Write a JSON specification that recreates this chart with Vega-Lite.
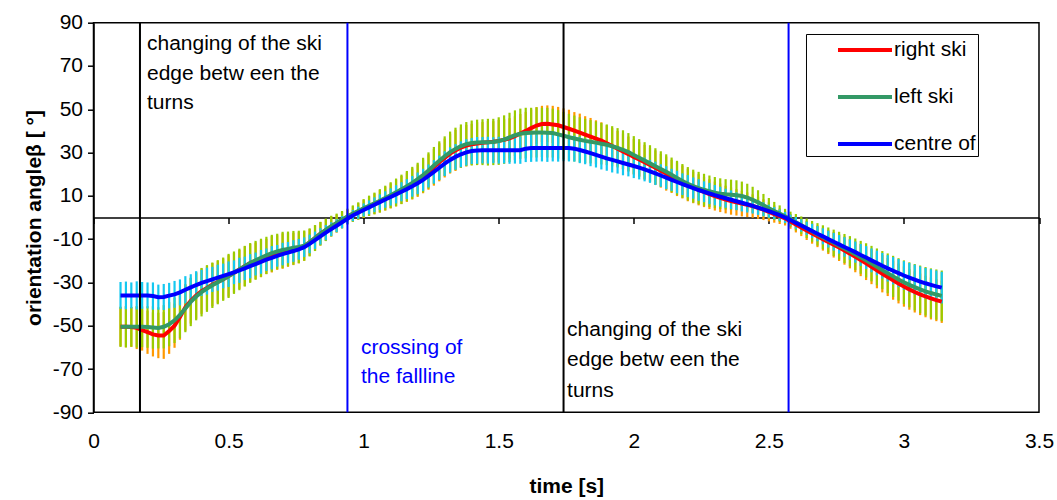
{
  "$schema": "https://vega.github.io/schema/vega-lite/v6.json",
  "width": 945.5,
  "height": 389.6,
  "autosize": {"type": "none"},
  "padding": {"left": 93.5, "top": 22.7, "right": 18, "bottom": 88},
  "background": "white",
  "config": {
    "font": "Liberation Sans",
    "view": {"stroke": "#000", "strokeWidth": 1.5},
    "axis": {
      "grid": false,
      "labelFont": "Liberation Sans",
      "labelFontSize": 21,
      "labelColor": "#000",
      "titleFont": "Liberation Sans",
      "titleFontSize": 21,
      "titleFontWeight": "bold",
      "titleColor": "#000",
      "domainColor": "#000",
      "domainWidth": 1.5,
      "tickColor": "#000",
      "tickWidth": 1.5
    }
  },
  "datasets": {
    "ski": [
      {"t":0.10,"r":-50.5,"re":9,"l":-50.5,"le":9.3,"c":-36,"ce":6.2},
      {"t":0.12,"r":-50.5,"re":9.5,"l":-50.5,"le":9.5,"c":-36,"ce":6.4},
      {"t":0.14,"r":-50.6,"re":9.2,"l":-50.5,"le":9.2,"c":-36,"ce":6},
      {"t":0.16,"r":-51,"re":9.8,"l":-50.5,"le":9.6,"c":-36,"ce":6.5},
      {"t":0.18,"r":-52,"re":9.5,"l":-50.5,"le":9.4,"c":-36,"ce":6.2},
      {"t":0.20,"r":-53,"re":10,"l":-50.6,"le":9.6,"c":-36,"ce":6},
      {"t":0.22,"r":-54,"re":10.2,"l":-50.8,"le":9.8,"c":-36.3,"ce":6.3},
      {"t":0.24,"r":-54.5,"re":10.5,"l":-51,"le":9.5,"c":-36.8,"ce":5.8},
      {"t":0.26,"r":-54.5,"re":10.8,"l":-50.5,"le":10,"c":-36.7,"ce":6},
      {"t":0.28,"r":-52.5,"re":10.5,"l":-49.3,"le":10.2,"c":-36.1,"ce":5.9},
      {"t":0.30,"r":-50,"re":10.2,"l":-47.5,"le":10.5,"c":-35.5,"ce":6.2},
      {"t":0.32,"r":-46,"re":10.5,"l":-45,"le":10.8,"c":-34.6,"ce":6},
      {"t":0.34,"r":-41.5,"re":10.8,"l":-42,"le":11,"c":-33.4,"ce":6.3},
      {"t":0.36,"r":-38.5,"re":10.5,"l":-39,"le":11.2,"c":-32.3,"ce":6.1},
      {"t":0.38,"r":-36,"re":10.8,"l":-36.5,"le":11,"c":-31.2,"ce":6.4},
      {"t":0.40,"r":-34,"re":10.5,"l":-34.5,"le":11.2,"c":-30.2,"ce":6},
      {"t":0.42,"r":-32.5,"re":10.2,"l":-32.8,"le":10.8,"c":-29.4,"ce":6.2},
      {"t":0.44,"r":-31,"re":10,"l":-31.3,"le":10.5,"c":-28.6,"ce":5.8},
      {"t":0.46,"r":-29.8,"re":9.8,"l":-29.9,"le":10.2,"c":-27.8,"ce":6},
      {"t":0.48,"r":-28.5,"re":9.5,"l":-28.5,"le":10,"c":-27,"ce":5.7},
      {"t":0.50,"r":-27,"re":9.6,"l":-27,"le":10.2,"c":-26.2,"ce":5.9},
      {"t":0.52,"r":-25.5,"re":9.2,"l":-25.5,"le":9.8,"c":-25.3,"ce":5.5},
      {"t":0.54,"r":-24,"re":9,"l":-24,"le":9.6,"c":-24.4,"ce":5.8},
      {"t":0.56,"r":-22.5,"re":9.2,"l":-22.5,"le":9.4,"c":-23.5,"ce":5.4},
      {"t":0.58,"r":-21,"re":8.8,"l":-21,"le":9.2,"c":-22.5,"ce":5.6},
      {"t":0.60,"r":-20,"re":8.5,"l":-19.8,"le":9,"c":-21.5,"ce":5.3},
      {"t":0.62,"r":-19,"re":8.6,"l":-18.6,"le":8.8,"c":-20.5,"ce":5.5},
      {"t":0.64,"r":-18,"re":8.2,"l":-17.5,"le":8.6,"c":-19.5,"ce":5.2},
      {"t":0.66,"r":-17,"re":8.4,"l":-16.5,"le":8.5,"c":-18.6,"ce":5.4},
      {"t":0.68,"r":-16.2,"re":8,"l":-15.7,"le":8.2,"c":-17.7,"ce":5},
      {"t":0.70,"r":-15.5,"re":8.2,"l":-15,"le":8.4,"c":-16.9,"ce":5.2},
      {"t":0.72,"r":-15,"re":7.8,"l":-14.5,"le":8,"c":-16.2,"ce":4.9},
      {"t":0.74,"r":-14.5,"re":7.5,"l":-14,"le":7.8,"c":-15.5,"ce":5},
      {"t":0.76,"r":-14,"re":7.2,"l":-13.6,"le":7.5,"c":-14.7,"ce":4.8},
      {"t":0.78,"r":-13.2,"re":6.8,"l":-13,"le":7,"c":-13.7,"ce":4.5},
      {"t":0.80,"r":-11.5,"re":6.2,"l":-11.5,"le":6.5,"c":-12.2,"ce":4.3},
      {"t":0.82,"r":-9.5,"re":5.8,"l":-9.5,"le":6,"c":-10.5,"ce":4},
      {"t":0.84,"r":-7.5,"re":5.4,"l":-7.5,"le":5.5,"c":-8.7,"ce":3.8},
      {"t":0.86,"r":-5.8,"re":5,"l":-5.7,"le":5.2,"c":-7,"ce":3.5},
      {"t":0.88,"r":-4.2,"re":4.6,"l":-4,"le":4.8,"c":-5.4,"ce":3.2},
      {"t":0.90,"r":-2.8,"re":4.2,"l":-2.5,"le":4.3,"c":-3.8,"ce":3},
      {"t":0.92,"r":-1.2,"re":3.8,"l":-1,"le":4,"c":-2.2,"ce":2.8},
      {"t":0.94,"r":0.3,"re":3.5,"l":0.5,"le":3.6,"c":-0.6,"ce":2.5},
      {"t":0.96,"r":1.6,"re":3.6,"l":1.8,"le":3.8,"c":0.9,"ce":2.6},
      {"t":0.98,"r":2.8,"re":3.8,"l":3,"le":4,"c":2.2,"ce":2.8},
      {"t":1.00,"r":4,"re":4.2,"l":4.2,"le":4.3,"c":3.5,"ce":3},
      {"t":1.02,"r":5.2,"re":4.5,"l":5.4,"le":4.7,"c":4.7,"ce":3.2},
      {"t":1.04,"r":6.3,"re":4.8,"l":6.5,"le":5,"c":5.9,"ce":3.4},
      {"t":1.06,"r":7.5,"re":5.2,"l":7.7,"le":5.4,"c":7.1,"ce":3.6},
      {"t":1.08,"r":8.7,"re":5.5,"l":9,"le":5.7,"c":8.3,"ce":3.8},
      {"t":1.10,"r":10,"re":5.8,"l":10.3,"le":6,"c":9.5,"ce":4},
      {"t":1.12,"r":11.3,"re":6.2,"l":11.6,"le":6.4,"c":10.7,"ce":4.2},
      {"t":1.14,"r":12.7,"re":6.5,"l":13,"le":6.8,"c":11.9,"ce":4.4},
      {"t":1.16,"r":14,"re":6.8,"l":14.5,"le":7,"c":13.1,"ce":4.6},
      {"t":1.18,"r":15.5,"re":7.2,"l":16,"le":7.4,"c":14.4,"ce":4.8},
      {"t":1.20,"r":17,"re":7.5,"l":17.7,"le":7.6,"c":15.8,"ce":5},
      {"t":1.22,"r":19,"re":7.8,"l":19.6,"le":8,"c":17.4,"ce":5.1},
      {"t":1.24,"r":21,"re":8.2,"l":21.7,"le":8.4,"c":19.2,"ce":5.3},
      {"t":1.26,"r":23.2,"re":8.5,"l":24,"le":8.6,"c":21.1,"ce":5.4},
      {"t":1.28,"r":25.5,"re":8.8,"l":26.2,"le":9,"c":23,"ce":5.6},
      {"t":1.30,"r":27.5,"re":9,"l":28.3,"le":9.2,"c":24.9,"ce":5.7},
      {"t":1.32,"r":29.5,"re":9.2,"l":30.2,"le":9.5,"c":26.6,"ce":5.8},
      {"t":1.34,"r":31,"re":9.5,"l":31.7,"le":9.8,"c":28,"ce":5.9},
      {"t":1.36,"r":32.3,"re":9.4,"l":33,"le":10,"c":29.2,"ce":6},
      {"t":1.38,"r":33.2,"re":9.6,"l":33.9,"le":10.2,"c":30.1,"ce":6.1},
      {"t":1.40,"r":33.8,"re":9.5,"l":34.4,"le":10.4,"c":30.7,"ce":6},
      {"t":1.42,"r":34.2,"re":9.8,"l":34.7,"le":10.5,"c":31,"ce":6.2},
      {"t":1.44,"r":34.5,"re":9.6,"l":34.8,"le":10.6,"c":31.1,"ce":6.1},
      {"t":1.46,"r":34.8,"re":9.8,"l":34.8,"le":10.8,"c":31.1,"ce":6.2},
      {"t":1.48,"r":35,"re":9.5,"l":34.9,"le":10.7,"c":31.1,"ce":6},
      {"t":1.50,"r":35.4,"re":9.7,"l":35.3,"le":11,"c":31.1,"ce":6.2},
      {"t":1.52,"r":35.9,"re":9.5,"l":36,"le":11.2,"c":31.1,"ce":6.1},
      {"t":1.54,"r":36.6,"re":9.3,"l":37,"le":11.4,"c":31.1,"ce":6.3},
      {"t":1.56,"r":37.6,"re":9.2,"l":38,"le":11.5,"c":31.1,"ce":6.2},
      {"t":1.58,"r":38.8,"re":9,"l":38.7,"le":11.6,"c":31.1,"ce":6.3},
      {"t":1.60,"r":40,"re":8.8,"l":39,"le":11.7,"c":31.8,"ce":6.2},
      {"t":1.62,"r":41.3,"re":8.6,"l":39.2,"le":11.5,"c":32.1,"ce":6.4},
      {"t":1.64,"r":42.5,"re":8.5,"l":39.3,"le":11.6,"c":32.1,"ce":6.3},
      {"t":1.66,"r":43.2,"re":8.4,"l":39.3,"le":11.4,"c":32.1,"ce":6.2},
      {"t":1.68,"r":43.3,"re":8.5,"l":39.2,"le":11.5,"c":32.1,"ce":6.4},
      {"t":1.70,"r":43,"re":8.6,"l":39,"le":11.3,"c":32.1,"ce":6.2},
      {"t":1.72,"r":42.6,"re":8.5,"l":38.4,"le":11.2,"c":32.1,"ce":6.3},
      {"t":1.74,"r":41.8,"re":8.6,"l":37.8,"le":11,"c":32.1,"ce":6.1},
      {"t":1.76,"r":41,"re":8.8,"l":37.1,"le":10.8,"c":32.1,"ce":6.2},
      {"t":1.78,"r":40.1,"re":8.6,"l":36.5,"le":10.6,"c":31.8,"ce":6},
      {"t":1.80,"r":39.2,"re":8.8,"l":35.9,"le":10.4,"c":31.2,"ce":6.1},
      {"t":1.82,"r":38.3,"re":8.5,"l":35.4,"le":10.2,"c":30.5,"ce":5.9},
      {"t":1.84,"r":37.4,"re":8.6,"l":35,"le":10,"c":29.7,"ce":6},
      {"t":1.86,"r":36.5,"re":8.4,"l":34.6,"le":9.8,"c":28.9,"ce":5.8},
      {"t":1.88,"r":35.5,"re":8.5,"l":34.1,"le":9.6,"c":28.1,"ce":5.9},
      {"t":1.90,"r":34.3,"re":8.3,"l":33.6,"le":9.4,"c":27.3,"ce":5.7},
      {"t":1.92,"r":33,"re":8.4,"l":32.9,"le":9.3,"c":26.6,"ce":5.8},
      {"t":1.94,"r":31.8,"re":8.2,"l":32.2,"le":9.1,"c":25.9,"ce":5.6},
      {"t":1.96,"r":30.5,"re":8.3,"l":31.3,"le":9,"c":25.2,"ce":5.7},
      {"t":1.98,"r":29.3,"re":8.1,"l":30.2,"le":8.8,"c":24.5,"ce":5.5},
      {"t":2.00,"r":28,"re":8.2,"l":28.9,"le":8.7,"c":23.8,"ce":5.6},
      {"t":2.02,"r":26.8,"re":8,"l":27.6,"le":8.6,"c":23,"ce":5.4},
      {"t":2.04,"r":25.5,"re":8.1,"l":26.3,"le":8.5,"c":22.2,"ce":5.5},
      {"t":2.06,"r":24.3,"re":7.9,"l":25,"le":8.4,"c":21.3,"ce":5.3},
      {"t":2.08,"r":23,"re":8,"l":23.7,"le":8.3,"c":20.4,"ce":5.4},
      {"t":2.10,"r":21.6,"re":7.8,"l":22.4,"le":8.2,"c":19.4,"ce":5.2},
      {"t":2.12,"r":20.3,"re":7.9,"l":21.1,"le":8.1,"c":18.4,"ce":5.3},
      {"t":2.14,"r":19,"re":7.7,"l":19.7,"le":8,"c":17.4,"ce":5.1},
      {"t":2.16,"r":17.7,"re":7.8,"l":18.3,"le":7.9,"c":16.4,"ce":5.2},
      {"t":2.18,"r":16.4,"re":7.6,"l":16.9,"le":7.8,"c":15.4,"ce":5},
      {"t":2.20,"r":15,"re":7.5,"l":15.6,"le":7.7,"c":14.5,"ce":5.1},
      {"t":2.22,"r":13.9,"re":7.3,"l":14.5,"le":7.6,"c":13.6,"ce":4.9},
      {"t":2.24,"r":12.8,"re":7.2,"l":13.6,"le":7.5,"c":12.7,"ce":5},
      {"t":2.26,"r":11.8,"re":7,"l":12.8,"le":7.4,"c":11.9,"ce":4.8},
      {"t":2.28,"r":10.8,"re":6.9,"l":12.1,"le":7.3,"c":11.1,"ce":4.9},
      {"t":2.30,"r":9.9,"re":6.7,"l":11.5,"le":7.2,"c":10.3,"ce":4.7},
      {"t":2.32,"r":9.1,"re":6.6,"l":11,"le":7.1,"c":9.6,"ce":4.6},
      {"t":2.34,"r":8.3,"re":6.4,"l":10.7,"le":7,"c":8.9,"ce":4.4},
      {"t":2.36,"r":7.6,"re":6.3,"l":10.5,"le":7,"c":8.2,"ce":4.3},
      {"t":2.38,"r":7,"re":6.1,"l":10.3,"le":6.9,"c":7.5,"ce":4.1},
      {"t":2.40,"r":6.4,"re":5.9,"l":9.9,"le":6.7,"c":6.8,"ce":4},
      {"t":2.42,"r":5.9,"re":5.7,"l":9.2,"le":6.4,"c":6.1,"ce":3.8},
      {"t":2.44,"r":5.3,"re":5.4,"l":8.2,"le":6,"c":5.4,"ce":3.6},
      {"t":2.46,"r":4.5,"re":5.1,"l":7,"le":5.6,"c":4.6,"ce":3.4},
      {"t":2.48,"r":3.6,"re":4.8,"l":5.7,"le":5.2,"c":3.8,"ce":3.2},
      {"t":2.50,"r":2.6,"re":4.4,"l":4.3,"le":4.7,"c":2.9,"ce":3},
      {"t":2.52,"r":1.6,"re":4,"l":3,"le":4.2,"c":2,"ce":2.8},
      {"t":2.54,"r":0.6,"re":3.6,"l":1.8,"le":3.8,"c":1.1,"ce":2.6},
      {"t":2.56,"r":-0.4,"re":3.3,"l":0.6,"le":3.4,"c":0,"ce":2.5},
      {"t":2.58,"r":-1.8,"re":3.4,"l":-0.8,"le":3.5,"c":-1.2,"ce":2.5},
      {"t":2.60,"r":-3.2,"re":3.7,"l":-2.2,"le":3.8,"c":-2.5,"ce":2.7},
      {"t":2.62,"r":-4.6,"re":4,"l":-3.6,"le":4.1,"c":-3.7,"ce":2.9},
      {"t":2.64,"r":-6,"re":4.4,"l":-5,"le":4.5,"c":-5,"ce":3.1},
      {"t":2.66,"r":-7.4,"re":4.7,"l":-6.4,"le":4.8,"c":-6.2,"ce":3.3},
      {"t":2.68,"r":-8.7,"re":5,"l":-7.8,"le":5.2,"c":-7.5,"ce":3.5},
      {"t":2.70,"r":-10,"re":5.3,"l":-9.1,"le":5.5,"c":-8.7,"ce":3.7},
      {"t":2.72,"r":-11.3,"re":5.6,"l":-10.4,"le":5.8,"c":-10,"ce":3.9},
      {"t":2.74,"r":-12.6,"re":5.9,"l":-11.7,"le":6.1,"c":-11.2,"ce":4.1},
      {"t":2.76,"r":-13.9,"re":6.2,"l":-13,"le":6.4,"c":-12.4,"ce":4.3},
      {"t":2.78,"r":-15.3,"re":6.5,"l":-14.3,"le":6.7,"c":-13.6,"ce":4.5},
      {"t":2.80,"r":-16.7,"re":6.8,"l":-15.6,"le":7,"c":-14.8,"ce":4.7},
      {"t":2.82,"r":-18.2,"re":7.1,"l":-17,"le":7.3,"c":-16,"ce":4.9},
      {"t":2.84,"r":-19.7,"re":7.4,"l":-18.4,"le":7.6,"c":-17.3,"ce":5.1},
      {"t":2.86,"r":-21.2,"re":7.7,"l":-19.8,"le":7.9,"c":-18.5,"ce":5.3},
      {"t":2.88,"r":-22.8,"re":8,"l":-21.3,"le":8.2,"c":-19.8,"ce":5.5},
      {"t":2.90,"r":-24.4,"re":8.3,"l":-22.8,"le":8.5,"c":-21,"ce":5.7},
      {"t":2.92,"r":-26,"re":8.6,"l":-24.3,"le":8.8,"c":-22.3,"ce":5.9},
      {"t":2.94,"r":-27.5,"re":8.8,"l":-25.8,"le":9.2,"c":-23.5,"ce":6.1},
      {"t":2.96,"r":-29,"re":9,"l":-27.2,"le":9.5,"c":-24.6,"ce":6.3},
      {"t":2.98,"r":-30.5,"re":9.2,"l":-28.6,"le":9.8,"c":-25.7,"ce":6.5},
      {"t":3.00,"r":-31.9,"re":9.3,"l":-29.9,"le":10.1,"c":-26.8,"ce":6.6},
      {"t":3.02,"r":-33.2,"re":9.4,"l":-31.1,"le":10.4,"c":-27.8,"ce":6.8},
      {"t":3.04,"r":-34.4,"re":9.5,"l":-32.2,"le":10.7,"c":-28.7,"ce":6.9},
      {"t":3.06,"r":-35.5,"re":9.6,"l":-33.2,"le":11,"c":-29.6,"ce":7},
      {"t":3.08,"r":-36.5,"re":9.6,"l":-34.1,"le":11.2,"c":-30.4,"ce":7.1},
      {"t":3.10,"r":-37.4,"re":9.7,"l":-34.9,"le":11.4,"c":-31.1,"ce":7.2},
      {"t":3.12,"r":-38.2,"re":9.7,"l":-35.6,"le":11.6,"c":-31.8,"ce":7.3},
      {"t":3.14,"r":-38.9,"re":9.8,"l":-36.2,"le":11.7,"c":-32.4,"ce":7.3}
    ],
    "edges": [{"t": 0.172}, {"t": 1.74}],
    "fallline": [{"t": 0.94}, {"t": 2.573}],
    "notesBlack": [
      {"t": 0.198, "v": 80.1, "label": "changing of the ski"},
      {"t": 0.198, "v": 66.3, "label": "edge betw een the"},
      {"t": 0.198, "v": 52.9, "label": "turns"},
      {"t": 1.753, "v": -52, "label": "changing of the ski"},
      {"t": 1.753, "v": -65.8, "label": "edge betw een the"},
      {"t": 1.753, "v": -80.1, "label": "turns"}
    ],
    "notesBlue": [
      {"t": 0.99, "v": -60.3, "label": "crossing of"},
      {"t": 0.99, "v": -73.7, "label": "the fallline"}
    ]
  },
  "data": {"name": "ski"},
  "encoding": {
    "x": {
      "field": "t",
      "type": "quantitative",
      "title": "time [s]",
      "scale": {"domain": [0, 3.5], "nice": false, "zero": false},
      "axis": {
        "values": [0, 0.5, 1, 1.5, 2, 2.5, 3, 3.5],
        "format": "~g",
        "offset": -194.8,
        "tickSize": 6,
        "labelPadding": 207,
        "titlePadding": 58,
        "labelFlush": false,
        "labelOverlap": false
      }
    }
  },
  "layer": [
    {
      "mark": {"type": "errorbar", "color": "#FF9900", "thickness": 2.2},
      "encoding": {
        "y": {"field": "r", "type": "quantitative", "title": "orientation angleβ [ °]", "scale": {"domain": [-90, 90], "nice": false, "zero": false},
          "axis": {"values": [-90, -70, -50, -30, -10, 10, 30, 50, 70, 90], "labelExpr": "datum.value + ''", "tickSize": 6, "labelPadding": 5, "titlePadding": 8}},
        "yError": {"field": "re"}
      }
    },
    {
      "mark": {"type": "errorbar", "color": "#99CC00", "thickness": 2.2},
      "encoding": {
        "y": {"field": "l", "type": "quantitative", "title": "orientation angleβ [ °]", "scale": {"domain": [-90, 90], "nice": false, "zero": false},
          "axis": {"values": [-90, -70, -50, -30, -10, 10, 30, 50, 70, 90], "labelExpr": "datum.value + ''", "tickSize": 6, "labelPadding": 5, "titlePadding": 8}},
        "yError": {"field": "le"}
      }
    },
    {
      "mark": {"type": "errorbar", "color": "#14C8F0", "thickness": 2.2},
      "encoding": {
        "y": {"field": "c", "type": "quantitative", "title": "orientation angleβ [ °]", "scale": {"domain": [-90, 90], "nice": false, "zero": false},
          "axis": {"values": [-90, -70, -50, -30, -10, 10, 30, 50, 70, 90], "labelExpr": "datum.value + ''", "tickSize": 6, "labelPadding": 5, "titlePadding": 8}},
        "yError": {"field": "ce"}
      }
    },
    {
      "mark": {"type": "line", "strokeWidth": 4},
      "encoding": {
        "y": {"field": "r", "type": "quantitative", "title": "orientation angleβ [ °]", "scale": {"domain": [-90, 90], "nice": false, "zero": false},
          "axis": {"values": [-90, -70, -50, -30, -10, 10, 30, 50, 70, 90], "labelExpr": "datum.value + ''", "tickSize": 6, "labelPadding": 5, "titlePadding": 8}},
        "color": {
          "datum": "right ski",
          "type": "nominal",
          "scale": {"domain": ["right ski", "left ski", "centre of"], "range": ["#FF0000", "#339966", "#0000FF"]},
          "legend": {
            "orient": "none",
            "legendX": 712.5,
            "legendY": 11.3,
            "title": null,
            "strokeColor": "#000",
            "fillColor": "#FFFFFF",
            "padding": 2,
            "symbolType": "M-2.25,0H2.25",
            "symbolSize": 576,
            "symbolStrokeWidth": 4,
            "symbolOffset": 43,
            "labelOffset": 15,
            "rowPadding": 23,
            "labelFont": "Liberation Sans",
            "labelFontSize": 21,
            "labelColor": "#000"
          }
        }
      }
    },
    {
      "mark": {"type": "line", "strokeWidth": 4},
      "encoding": {
        "y": {"field": "l", "type": "quantitative", "title": "orientation angleβ [ °]", "scale": {"domain": [-90, 90], "nice": false, "zero": false},
          "axis": {"values": [-90, -70, -50, -30, -10, 10, 30, 50, 70, 90], "labelExpr": "datum.value + ''", "tickSize": 6, "labelPadding": 5, "titlePadding": 8}},
        "color": {"datum": "left ski", "type": "nominal"}
      }
    },
    {
      "mark": {"type": "line", "strokeWidth": 4},
      "encoding": {
        "y": {"field": "c", "type": "quantitative", "title": "orientation angleβ [ °]", "scale": {"domain": [-90, 90], "nice": false, "zero": false},
          "axis": {"values": [-90, -70, -50, -30, -10, 10, 30, 50, 70, 90], "labelExpr": "datum.value + ''", "tickSize": 6, "labelPadding": 5, "titlePadding": 8}},
        "color": {"datum": "centre of", "type": "nominal"}
      }
    },
    {
      "data": {"name": "edges"},
      "mark": {"type": "rule", "color": "#000", "strokeWidth": 2},
      "encoding": {}
    },
    {
      "data": {"name": "fallline"},
      "mark": {"type": "rule", "color": "#0000FF", "strokeWidth": 2},
      "encoding": {}
    },
    {
      "data": {"name": "notesBlack"},
      "mark": {"type": "text", "align": "left", "baseline": "middle", "font": "Liberation Sans", "fontSize": 21, "color": "#000"},
      "encoding": {
        "y": {"field": "v", "type": "quantitative", "title": "orientation angleβ [ °]", "scale": {"domain": [-90, 90], "nice": false, "zero": false},
          "axis": {"values": [-90, -70, -50, -30, -10, 10, 30, 50, 70, 90], "labelExpr": "datum.value + ''", "tickSize": 6, "labelPadding": 5, "titlePadding": 8}},
        "text": {"field": "label"}
      }
    },
    {
      "data": {"name": "notesBlue"},
      "mark": {"type": "text", "align": "left", "baseline": "middle", "font": "Liberation Sans", "fontSize": 21, "color": "#0000FF"},
      "encoding": {
        "y": {"field": "v", "type": "quantitative", "title": "orientation angleβ [ °]", "scale": {"domain": [-90, 90], "nice": false, "zero": false},
          "axis": {"values": [-90, -70, -50, -30, -10, 10, 30, 50, 70, 90], "labelExpr": "datum.value + ''", "tickSize": 6, "labelPadding": 5, "titlePadding": 8}},
        "text": {"field": "label"}
      }
    }
  ]
}
